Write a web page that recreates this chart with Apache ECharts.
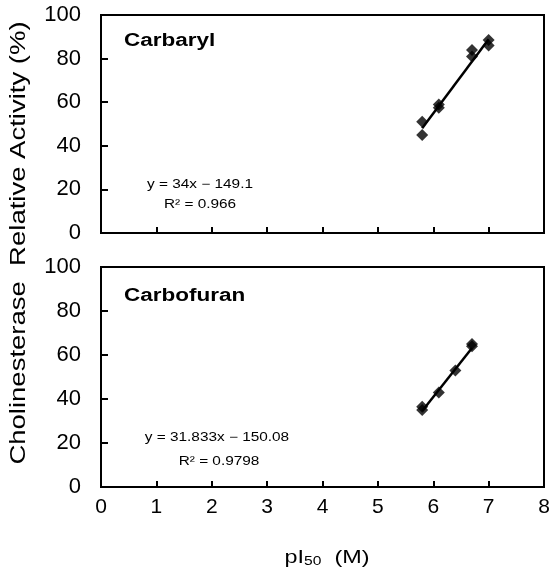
<!DOCTYPE html>
<html>
<head>
<meta charset="utf-8">
<script src="https://cdn.jsdelivr.net/npm/echarts@6/dist/echarts.min.js"></script>
<style>
html,body{margin:0;padding:0;background:#fff;}
#c{width:554px;height:574px;}
</style>
</head>
<body>
<div id="c"></div>
<script>
// Carbaryl (top panel) measured points [pI50, relative activity %]
const carbarylPoints = [[5.8, 51], [5.8, 45], [6.1, 59], [6.1, 57.5], [6.7, 84], [6.7, 81], [7.0, 88.5], [7.0, 86]];
// Carbaryl trendline end points
const carbarylLine = [[5.8, 48.1], [7.0, 88.9]];
// Carbofuran (bottom panel) measured points
const carbofuranPoints = [[5.8, 36.5], [5.8, 35], [6.1, 43], [6.4, 53], [6.7, 65], [6.7, 64]];
// Carbofuran trendline end points
const carbofuranLine = [[5.8, 34.5], [6.7, 63.2]];
// axis tick settings
const xTicks = [0, 1, 2, 3, 4, 5, 6, 7, 8];
const yTicks = [0, 20, 40, 60, 80, 100];
const eqTop = ['y = 34x − 149.1', 'R² = 0.966'];
const eqBottom = ['y = 31.833x − 150.08', 'R² = 0.9798'];

const FONT = '"Liberation Sans", Arial, sans-serif';
const chart = echarts.init(document.getElementById('c'), null, {renderer: 'canvas'});

function xAxis(idx, showLabels) {
  return {
    gridIndex: idx, type: 'value', min: xTicks[0], max: xTicks[xTicks.length - 1], interval: 1,
    axisLine: {show: true, lineStyle: {color: '#000', width: 2}},
    axisTick: {show: true, inside: true, length: 6, lineStyle: {color: '#000', width: 2}},
    axisLabel: {show: showLabels, color: '#000', fontFamily: FONT, fontSize: 21, margin: 10},
    splitLine: {show: false}
  };
}
function yAxis(idx) {
  return {
    gridIndex: idx, type: 'value', min: yTicks[0], max: yTicks[yTicks.length - 1], interval: 20,
    axisLine: {show: true, lineStyle: {color: '#000', width: 2}},
    axisTick: {show: true, inside: true, length: 7, lineStyle: {color: '#000', width: 2}},
    axisLabel: {color: '#000', fontFamily: FONT, fontSize: 22, margin: 20},
    splitLine: {show: false}
  };
}
function eq(text, x, y) {
  return {type: 'text', x: x, y: y, scaleX: 1.28, style: {text: text, font: '12px ' + FONT, fill: '#000', align: 'center', verticalAlign: 'middle'}};
}

chart.setOption({
  animation: false,
  backgroundColor: '#fff',
  grid: [
    {left: 101, right: 10, top: 15, height: 218, show: true, borderColor: '#000', borderWidth: 2},
    {left: 101, right: 10, top: 267, height: 220, show: true, borderColor: '#000', borderWidth: 2}
  ],
  xAxis: [xAxis(0, false), xAxis(1, true)],
  yAxis: [yAxis(0), yAxis(1)],
  graphic: [
    {type: 'text', x: 124, y: 41, scaleX: 1.25, style: {text: 'Carbaryl', font: 'bold 18px ' + FONT, fill: '#000', verticalAlign: 'middle'}},
    {type: 'text', x: 124, y: 296, scaleX: 1.25, style: {text: 'Carbofuran', font: 'bold 18px ' + FONT, fill: '#000', verticalAlign: 'middle'}},
    eq(eqTop[0], 200, 185),
    eq(eqTop[1], 200, 205),
    eq(eqBottom[0], 217, 438),
    eq(eqBottom[1], 219, 462),
    {type: 'text', x: 19, y: 243, rotation: Math.PI / 2, scaleX: 1.25, style: {text: 'Cholinesterase  Relative Activity (%)', font: '22px ' + FONT, fill: '#000', align: 'center', verticalAlign: 'middle'}},
    {type: 'text', x: 327, y: 558, scaleX: 1.3, style: {
      text: '{a|pI}{b|50}{a|  (M)}', align: 'center', verticalAlign: 'middle',
      rich: {a: {font: '18px ' + FONT, fill: '#000', color: '#000'}, b: {font: '12px ' + FONT, fill: '#000', color: '#000', padding: [7, 0, 0, 0]}}
    }}
  ],
  series: [
    {type: 'line', xAxisIndex: 0, yAxisIndex: 0, data: carbarylLine, symbol: 'none', lineStyle: {color: '#000', width: 2.5}},
    {type: 'scatter', xAxisIndex: 0, yAxisIndex: 0, data: carbarylPoints, symbol: 'diamond', symbolSize: 12, itemStyle: {color: '#000'}},
    {type: 'line', xAxisIndex: 1, yAxisIndex: 1, data: carbofuranLine, symbol: 'none', lineStyle: {color: '#000', width: 2.5}},
    {type: 'scatter', xAxisIndex: 1, yAxisIndex: 1, data: carbofuranPoints, symbol: 'diamond', symbolSize: 12, itemStyle: {color: '#000'}}
  ]
});
</script>
</body>
</html>
